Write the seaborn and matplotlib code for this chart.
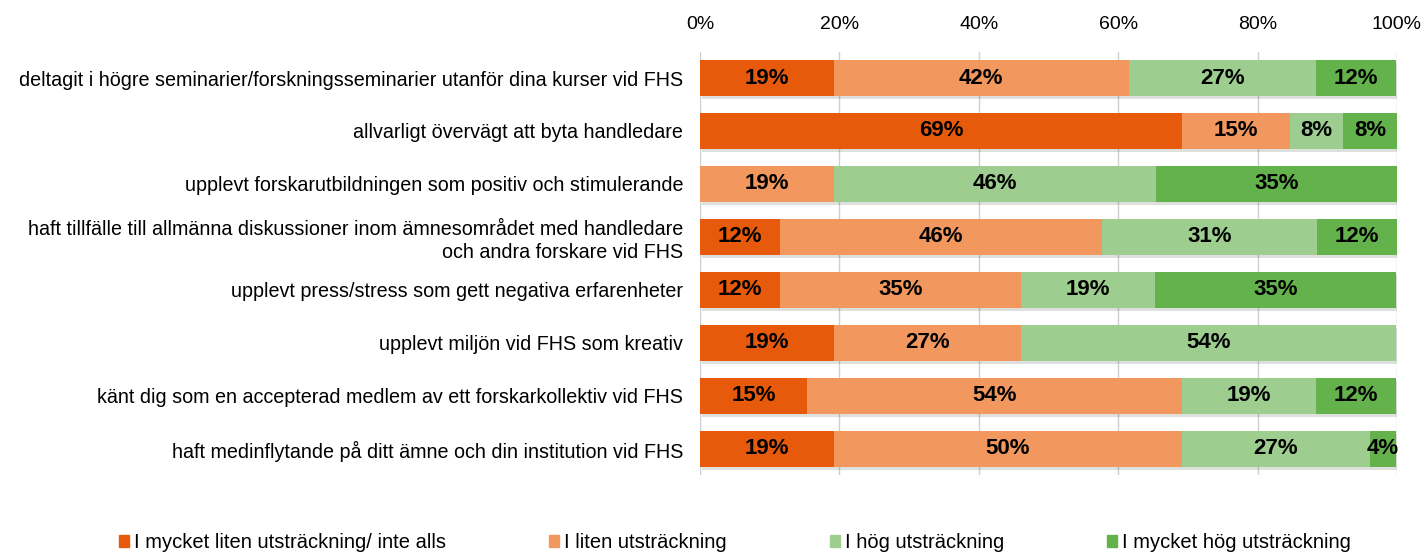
import numpy as np
import pandas as pd
import matplotlib
matplotlib.use("Agg")
import matplotlib.pyplot as plt
import matplotlib.patheffects as pe
from matplotlib.patches import Rectangle
import seaborn as sns

# Data (share of respondents, %)
questions = [
    "deltagit i högre seminarier/forskningsseminarier utanför dina kurser vid FHS",
    "allvarligt övervägt att byta handledare",
    "upplevt forskarutbildningen som positiv och stimulerande",
    "haft tillfälle till allmänna diskussioner inom ämnesområdet med handledare\noch andra forskare vid FHS",
    "upplevt press/stress som gett negativa erfarenheter",
    "upplevt miljön vid FHS som kreativ",
    "känt dig som en accepterad medlem av ett forskarkollektiv vid FHS",
    "haft medinflytande på ditt ämne och din institution vid FHS",
]
series = [
    "I mycket liten utsträckning/ inte alls",
    "I liten utsträckning",
    "I hög utsträckning",
    "I mycket hög utsträckning",
]
very_low = [19.2, 69.2, 0.0, 11.5, 11.5, 19.2, 15.4, 19.2]
low = [42.3, 15.4, 19.2, 46.2, 34.6, 26.9, 53.8, 50.0]
high = [26.9, 7.7, 46.2, 30.8, 19.2, 53.8, 19.2, 26.9]
very_high = [11.5, 7.7, 34.6, 11.5, 34.6, 0.0, 11.5, 3.8]
colors = ["#E85A0B", "#F2985E", "#9DCD8F", "#63B24C"]
xticks = [0, 20, 40, 60, 80, 100]

plt.rcParams["font.family"] = ["Liberation Sans", "DejaVu Sans"]

df = pd.DataFrame({"question": questions, series[0]: very_low, series[1]: low,
                   series[2]: high, series[3]: very_high})
vals = df[series].to_numpy()
cum = np.cumsum(vals, axis=1)

fig = plt.figure(figsize=(14.27, 5.52), dpi=100)
ax = fig.add_axes([0.4905, 0.1386, 0.4884, 0.7681])

# stacked bars: draw cumulative totals from widest to narrowest
for i in range(3, -1, -1):
    sns.barplot(x=cum[:, i], y=df["question"], orient="h", color=colors[i],
                width=0.68, saturation=1, ax=ax, zorder=2)
for bar in ax.patches[:len(questions)]:
    bar.set_path_effects([pe.SimplePatchShadow(offset=(1.5, -2), alpha=0.15), pe.Normal()])

# segment labels
for r in range(len(questions)):
    for i in range(4):
        v = vals[r, i]
        if v <= 0:
            continue
        xc = cum[r, i] - v / 2
        if cum[r, i] >= 99.9 and v < 5:
            xc = cum[r, i] - 1.5
        ax.text(xc, r, f"{v:.0f}%", ha="center", va="center", fontsize=16,
                fontweight="bold", zorder=5)

ax.set_xlim(0, 100)
ax.set_ylim(7.5, -0.5)
ax.set_xticks(xticks)
ax.set_xticklabels([f"{t}%" for t in xticks], fontsize=14)
ax.xaxis.tick_top()
ax.tick_params(axis="x", length=0, pad=13)
ax.tick_params(axis="y", length=0, pad=12, labelsize=14.2)
ax.set_xlabel("")
ax.set_ylabel("")
for lab in ax.get_yticklabels():
    lab.set_multialignment("right")
    lab.set_linespacing(1.3)
ax.grid(axis="x", color="#CFCFCF", linewidth=1, zorder=0)
ax.set_axisbelow(True)
for s in ax.spines.values():
    s.set_visible(False)

handles = [Rectangle((0, 0), 1, 1, color=c) for c in colors]
fig.legend(handles, series, loc="lower center", bbox_to_anchor=(0.515, -0.033), ncol=4,
           frameon=False, fontsize=14.5, handlelength=0.5, handleheight=0.6,
           handletextpad=0.25, columnspacing=5.1)

fig.savefig("out.png", dpi=100)
